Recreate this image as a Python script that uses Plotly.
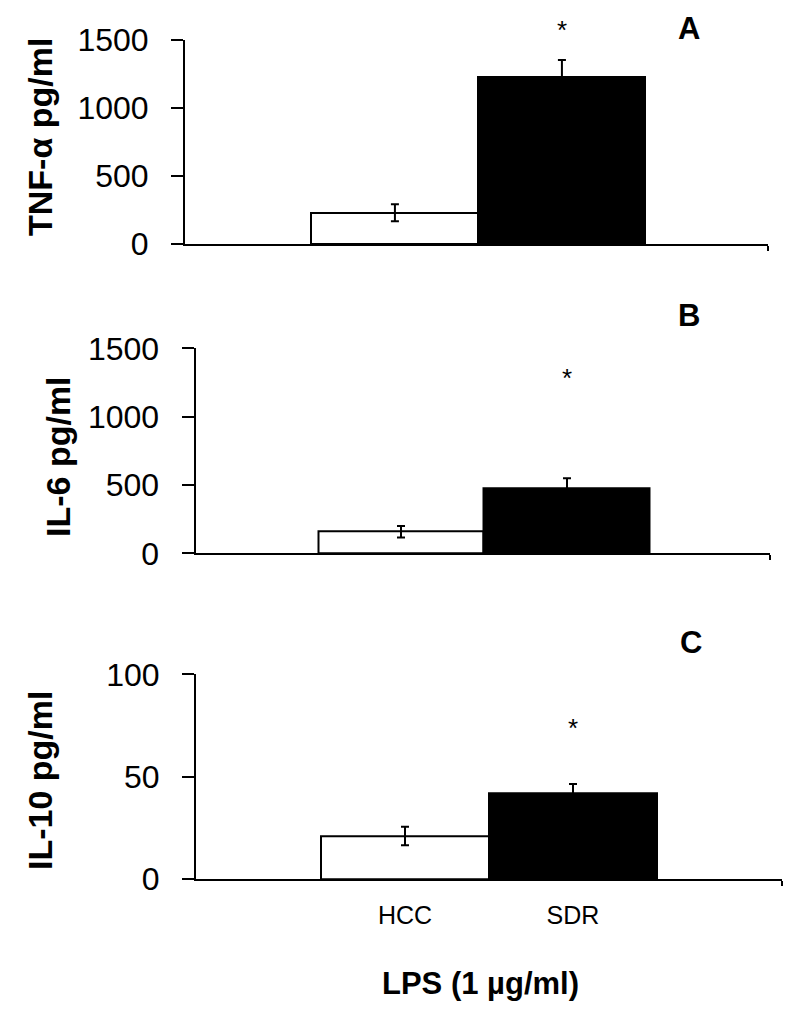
import plotly.graph_objects as go

# ---- data ----
groups = ["HCC", "SDR"]
x_pos = [0, 1]
tnf_mean = [230, 1228]
tnf_sem = [62, 125]
il6_mean = [158, 478]
il6_sem = [42, 71]
il10_mean = [21.0, 42.0]
il10_sem = [4.5, 4.4]
star_y = [1574, 1281, 73.8]
y_max = [1500, 1500, 100]
y_dtick = [500, 500, 50]
y_titles = ["TNF-α pg/ml", "IL-6 pg/ml", "IL-10 pg/ml"]
panel_letters = ["A", "B", "C"]
x_title = "LPS (1 µg/ml)"
bar_colors = ["white", "black"]

means = [tnf_mean, il6_mean, il10_mean]
sems = [tnf_sem, il6_sem, il10_sem]

W, H = 800, 1013
OFF = 8  # page body margin


def px(x):
    return (x - OFF) / W


def py(y):
    return 1 - (y - OFF) / H


# pixel geometry of each panel (left, right, top, bottom) and x ranges
geom = [
    dict(x0=185, x1=768, y0=40, y1=244, xr=[-1.257, 2.234], tx=40, ty=137, lx=689, ly=29),
    dict(x0=195.5, x1=770, y0=348.3, y1=553.3, xr=[-1.238, 2.223], tx=58, ty=457, lx=689, ly=315),
    dict(x0=196, x1=782, y0=674.3, y1=879, xr=[-1.244, 2.244], tx=40, ty=781, lx=691, ly=642),
]

FONT = "Liberation Sans, Arial, sans-serif"

fig = go.Figure()
annotations = []
layout = {}
for i in range(3):
    g = geom[i]
    xa = "x" if i == 0 else f"x{i+1}"
    ya = "y" if i == 0 else f"y{i+1}"
    xkey = "xaxis" if i == 0 else f"xaxis{i+1}"
    ykey = "yaxis" if i == 0 else f"yaxis{i+1}"
    fig.add_trace(go.Bar(
        x=x_pos, y=means[i], width=1,
        marker=dict(color=bar_colors, line=dict(color="black", width=2)),
        error_y=dict(type="data", array=sems[i], symmetric=True,
                     color="black", thickness=2, width=4),
        xaxis=xa, yaxis=ya, showlegend=False,
    ))
    layout[xkey] = dict(
        domain=[px(g["x0"]), px(g["x1"])], range=g["xr"], anchor=ya,
        automargin=False,
        showline=True, linecolor="black", linewidth=2, showgrid=False,
        zeroline=False, tickmode="array", tickvals=x_pos,
        ticktext=groups if i == 2 else ["", ""],
        ticks="", ticklen=0, ticklabelstandoff=13,
        tickfont=dict(family=FONT, size=25, color="black"),
        minor=dict(tickvals=[g["xr"][1]], ticks="outside", ticklen=5,
                   tickwidth=2, tickcolor="black"),
        fixedrange=True,
    )
    layout[ykey] = dict(
        domain=[py(g["y1"]), py(g["y0"])], range=[0, y_max[i]],
        anchor=xa, automargin=False, showline=True, linecolor="black", linewidth=2,
        showgrid=False, zeroline=False, dtick=y_dtick[i], tick0=0,
        ticks="outside", ticklen=12, tickwidth=2, tickcolor="black",
        ticklabelstandoff=16,
        tickfont=dict(family=FONT, size=32, color="black"),
    )
    annotations.append(dict(
        x=1, y=star_y[i] / y_max[i], xref=xa, yref=f"{ya} domain", text="*",
        showarrow=False, xanchor="center", yanchor="middle",
        font=dict(family=FONT, size=26, color="black")))
    annotations.append(dict(
        x=px(g["lx"]), y=py(g["ly"]), xref="paper", yref="paper",
        text=f"<b>{panel_letters[i]}</b>", showarrow=False,
        xanchor="center", yanchor="middle",
        font=dict(family=FONT, size=31, color="black")))
    annotations.append(dict(
        x=px(g["tx"]), y=py(g["ty"]), xref="paper", yref="paper",
        text=f"<b>{y_titles[i]}</b>", textangle=-90, showarrow=False,
        xanchor="center", yanchor="middle",
        font=dict(family=FONT, size=34, color="black")))

annotations.append(dict(
    x=px(480), y=py(983), xref="paper", yref="paper",
    text=f"<b>{x_title}</b>", showarrow=False, xanchor="center", yanchor="middle",
    font=dict(family=FONT, size=31, color="black")))

fig.update_layout(
    width=W, height=H, margin=dict(l=0, r=0, t=0, b=0),
    paper_bgcolor="white", plot_bgcolor="white",
    annotations=annotations, bargap=0, **layout,
)
fig.write_html("out.html")
